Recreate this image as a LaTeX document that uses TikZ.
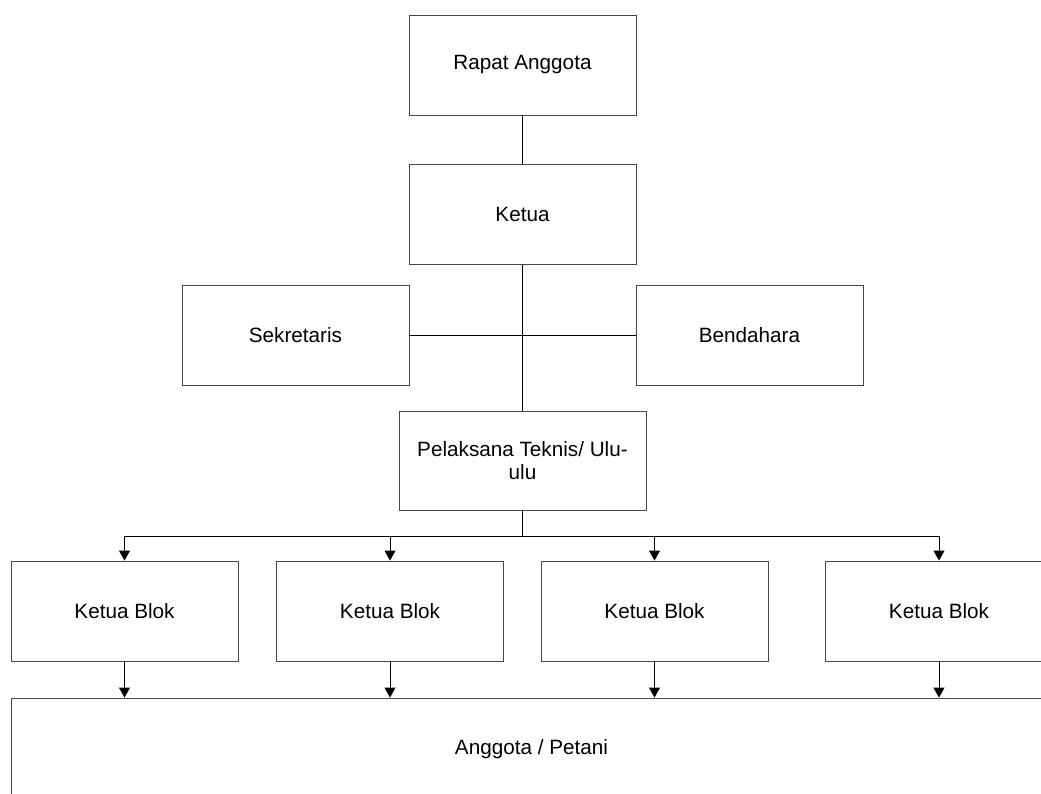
\documentclass[tikz,border=0pt]{standalone}
\usepackage{fontspec}
\setmainfont{Liberation Sans}
\usetikzlibrary{arrows.meta}

\tikzset{
    unit/.style={draw=black!72, line width=0.9pt, fill=white, inner sep=0pt,
        minimum width=227pt, minimum height=100pt, align=center,
        font=\fontsize{20.7pt}{23pt}\selectfont},
    link/.style={line width=1pt, black},
    down/.style={link, -{Triangle[width=11pt,length=10pt]}}
}

\begin{document}
\begin{tikzpicture}[x=1pt, y=-1pt]
    % Page frame (also the bounding box)
    \clip (0,0) rectangle (1041,794);

    % Parameters
    \def\busy{536} % y of the horizontal bus

    % Top of the chart
    \node[unit] (rapat) at (522.5,65) {Rapat Anggota};
    \node[unit] (ketua) at (522.5,214.5) {Ketua};
    \node[unit] (sekretaris) at (295.5,335) {Sekretaris};
    \node[unit] (bendahara) at (749.5,335) {Bendahara};
    \node[unit, minimum width=247pt, minimum height=99pt] (pelaksana) at (522.5,460.5) {Pelaksana Teknis/ Ulu-\\ulu};

    % Members box, cut by the page edge
    \node[unit, minimum width=1041pt, minimum height=102pt] (anggota) at (531.5,749) {Anggota / Petani};

    % Lines of the top part
    \draw[link] (rapat) -- (ketua);
    \draw[link] (ketua) -- (pelaksana);
    \draw[link] (sekretaris) -- (bendahara);

    \coordinate (bus) at (522.5,\busy);
    \draw[link] (pelaksana) -- (bus);

    % Block leaders
    \foreach \i/\xc in {1/124.5, 2/390, 3/654.5, 4/939} {
        \node[unit] (blok\i) at (\xc,611) {Ketua Blok};
        \draw[down] (bus -| blok\i) -- (blok\i);
        \draw[down] (blok\i) -- (blok\i |- anggota.north);
    }
    \draw[link] (bus -| blok1) -- (bus -| blok4);
\end{tikzpicture}
\end{document}
